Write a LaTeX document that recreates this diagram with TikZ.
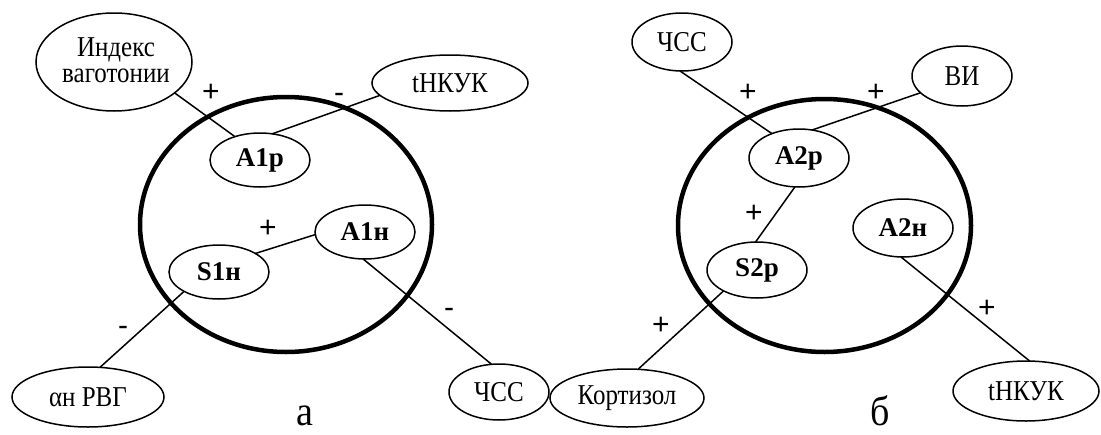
\documentclass[tikz,border=0pt]{standalone}
\usepackage{fontspec}
\setmainfont{Liberation Serif}
\newfontfamily\signfont{Liberation Sans}
\usetikzlibrary{shapes.geometric}
\newcommand\vstr[1]{\scalebox{1}[1.15]{#1}}
\begin{document}
\begin{tikzpicture}[x=1pt,y=-1pt,
  ell/.style={draw, ellipse, line width=1.5pt, inner sep=0pt, outer sep=0pt},
  txt/.style={font=\fontsize{25}{24}\selectfont},
  lbl/.style={font=\fontsize{27}{30}\selectfont\bfseries},
  ring/.style={draw, ellipse, line width=4.5pt, inner sep=0pt, outer sep=0pt},
  conn/.style={line width=1.5pt},
  sign/.style={font=\signfont\fontsize{30}{34}\selectfont, inner sep=0pt, anchor=base},
  panel/.style={font=\fontsize{38}{42}\selectfont, inner sep=0pt, anchor=base}]
\useasboundingbox (0,0) rectangle (1101,434);

% ---------- panel a ----------
\node[ring, minimum width=292pt, minimum height=255pt] (ringL) at (286,224.5) {};
\node[ell, minimum width=156pt, minimum height=98pt] (vag) at (114,62) {};
\node[txt, inner sep=0pt] (vag1) at (116,50) {\vstr{Индекс}};
\node[txt, inner sep=0pt] (vag2) at (116,76) {\vstr{ваготонии}};
\node[ell, txt, minimum width=156pt, minimum height=56pt] (tnkL) at (450,83) {\vstr{tНКУК}};
\node[ell, lbl, minimum width=100pt, minimum height=54pt] (A1p) at (260,160) {A1р};
\node[ell, lbl, minimum width=100pt, minimum height=54pt] (A1n) at (365,232) {A1н};
\node[ell, lbl, minimum width=100pt, minimum height=54pt] (S1n) at (219,272) {S1н};
\node[ell, txt, minimum width=152pt, minimum height=60pt] (rvg) at (88,397) {\vstr{αн РВГ}};
\node[ell, txt, minimum width=100pt, minimum height=56pt] (hssL) at (499,392) {\vstr{ЧСС}};

\draw[conn] (vag.-27.3) -- (A1p.137.3);
\draw[conn] (tnkL.190.2) -- (A1p.65);
\draw[conn] (A1n.183.5) -- (S1n.27.1);
\draw[conn] (S1n.209.6) -- (rvg.68.2);
\draw[conn] (A1n.-94) -- (hssL.105.4);

\node[sign] (sa1) at (211,101) {+};
\node[sign] (sa2) at (339,102) {-};
\node[sign] (sa3) at (268,237) {+};
\node[sign] (sa4) at (123,335) {-};
\node[sign] (sa5) at (449,317) {-};
\node[panel] (pa) at (305,425) {\scalebox{1}[1.1]{а}};

% ---------- panel b ----------
\node[ring, minimum width=293pt, minimum height=253pt] (ringR) at (824.5,225.5) {};
\node[ell, txt, minimum width=100pt, minimum height=58pt] (hssR) at (682,42) {\vstr{ЧСС}};
\node[ell, txt, minimum width=100pt, minimum height=60pt] (vi) at (962,76) {\vstr{ВИ}};
\node[ell, lbl, minimum width=100pt, minimum height=58pt] (A2p) at (799,158) {A2р};
\node[ell, lbl, minimum width=100pt, minimum height=58pt] (A2n) at (903,228) {A2н};
\node[ell, lbl, minimum width=100pt, minimum height=56pt] (S2p) at (757,270) {S2р};
\node[ell, txt, minimum width=154pt, minimum height=58pt] (kort) at (627,398) {\vstr{Кортизол}};
\node[ell, txt, minimum width=146pt, minimum height=60pt] (tnkR) at (1026,391) {\vstr{tНКУК}};

\draw[conn] (hssR.-94) -- (A2p.138.5);
\draw[conn] (vi.202.7) -- (A2p.65.9);
\draw[conn] (A2p.262.4) -- (S2p.93.8);
\draw[conn] (S2p.212.6) -- (kort.69.9);
\draw[conn] (A2n.-94) -- (tnkR.83.9);

\node[sign] (sb1) at (748,101) {+};
\node[sign] (sb2) at (876,101) {+};
\node[sign] (sb3) at (754,222) {+};
\node[sign] (sb4) at (661,334) {+};
\node[sign] (sb5) at (987,317) {+};
\node[panel] (pb) at (880,425) {\scalebox{1}[1.1]{б}};
\end{tikzpicture}
\end{document}
